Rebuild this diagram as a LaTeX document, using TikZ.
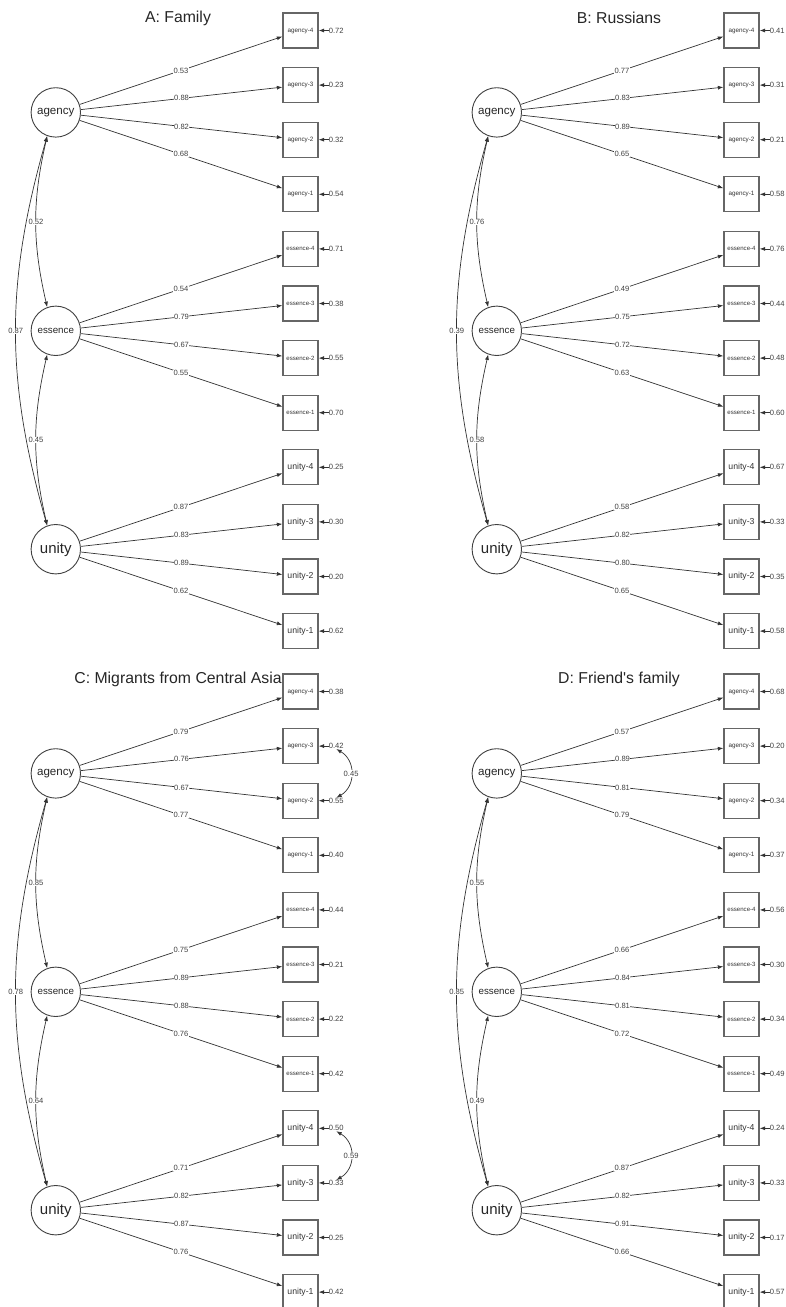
\documentclass[tikz,border=0pt]{standalone}
\usepackage{fontspec}
\setmainfont{Liberation Sans}
\usetikzlibrary{arrows.meta}

\newcommand\agencyfont{\fontsize{6.3}{7}\selectfont}
\newcommand\essencefont{\fontsize{6.1}{7}\selectfont}
\newcommand\unityfont{\fontsize{8.7}{10}\selectfont}

\tikzset{
    latent/.style={circle, draw=black!75, line width=0.9pt, minimum size=49.4pt, inner sep=0pt, text=black!85},
    indicator/.style={rectangle, draw=black!60, line width=1.3pt, minimum size=35pt, inner sep=0pt, text=black!80},
    loading/.style={fill=white, inner sep=0.4pt, font=\fontsize{7.6}{8}\selectfont, text=black!75},
    resid/.style={anchor=west, inner sep=0pt, font=\fontsize{7.6}{8}\selectfont, text=black!75},
    onehead/.style={-{Latex[length=5.5pt,width=4pt]}, draw=black!80, line width=0.7pt},
    twohead/.style={{Latex[length=5.5pt,width=4pt]}-{Latex[length=5.5pt,width=4pt]}, draw=black!80, line width=0.7pt},
    paneltitle/.style={font=\fontsize{15.8}{18}\selectfont, text=black!85}
}

\begin{document}
\begin{tikzpicture}[x=1pt,y=1pt]
        \useasboundingbox (0,0) rectangle (786,-1307);

        % Panel A
        \begin{scope}[shift={(0,0)}]
        \node[paneltitle] (A-title) at (178,-18) {A: Family};
        % Factors
        \node[latent, font=\fontsize{11.6}{13}\selectfont] (A-agency) at (55.8,-112.4) {agency};
        \node[latent, font=\fontsize{9.75}{11}\selectfont] (A-essence) at (55.8,-330.8) {essence};
        \node[latent, font=\fontsize{15}{17}\selectfont] (A-unity) at (55.8,-549.2) {unity};
        % Items, loadings and residuals
        \foreach \f/\i/\ld/\rs [count=\k from 0] in {agency/4/0.53/0.72, agency/3/0.88/0.23, agency/2/0.82/0.32, agency/1/0.68/0.54,
                essence/4/0.54/0.71, essence/3/0.79/0.38, essence/2/0.67/0.55, essence/1/0.55/0.70,
                unity/4/0.87/0.25, unity/3/0.83/0.30, unity/2/0.89/0.20, unity/1/0.62/0.62}
        {
            \node[indicator, font=\csname\f font\endcsname] (A-\f-\i) at (300.5,{-30.5-54.6*\k}) {\f-\i};
            \draw[onehead] (A-\f) -- node[loading] {\ld} (A-\f-\i);
            \node[resid] (A-r-\f-\i) at ([xshift=10pt]A-\f-\i.east) {\rs};
            \draw[onehead] (A-r-\f-\i) -- (A-\f-\i);
        }
        % Factor covariances
        \draw[twohead] (A-agency.250) to[bend right=13] node[loading] {0.52} (A-essence.110);
        \draw[twohead] (A-agency.250) to[bend right=16] node[loading] {0.87} (A-unity.110);
        \draw[twohead] (A-essence.250) to[bend right=13] node[loading] {0.45} (A-unity.110);
        \end{scope}

        % Panel B
        \begin{scope}[shift={(441,0)}]
        \node[paneltitle] (B-title) at (178,-18) {B: Russians};
        % Factors
        \node[latent, font=\fontsize{11.6}{13}\selectfont] (B-agency) at (55.8,-112.4) {agency};
        \node[latent, font=\fontsize{9.75}{11}\selectfont] (B-essence) at (55.8,-330.8) {essence};
        \node[latent, font=\fontsize{15}{17}\selectfont] (B-unity) at (55.8,-549.2) {unity};
        % Items, loadings and residuals
        \foreach \f/\i/\ld/\rs [count=\k from 0] in {agency/4/0.77/0.41, agency/3/0.83/0.31, agency/2/0.89/0.21, agency/1/0.65/0.58,
                essence/4/0.49/0.76, essence/3/0.75/0.44, essence/2/0.72/0.48, essence/1/0.63/0.60,
                unity/4/0.58/0.67, unity/3/0.82/0.33, unity/2/0.80/0.35, unity/1/0.65/0.58}
        {
            \node[indicator, font=\csname\f font\endcsname] (B-\f-\i) at (300.5,{-30.5-54.6*\k}) {\f-\i};
            \draw[onehead] (B-\f) -- node[loading] {\ld} (B-\f-\i);
            \node[resid] (B-r-\f-\i) at ([xshift=10pt]B-\f-\i.east) {\rs};
            \draw[onehead] (B-r-\f-\i) -- (B-\f-\i);
        }
        % Factor covariances
        \draw[twohead] (B-agency.250) to[bend right=13] node[loading] {0.76} (B-essence.110);
        \draw[twohead] (B-agency.250) to[bend right=16] node[loading] {0.39} (B-unity.110);
        \draw[twohead] (B-essence.250) to[bend right=13] node[loading] {0.58} (B-unity.110);
        \end{scope}

        % Panel C
        \begin{scope}[shift={(0,-661)}]
        \node[paneltitle] (C-title) at (178,-18) {C: Migrants from Central Asia};
        % Factors
        \node[latent, font=\fontsize{11.6}{13}\selectfont] (C-agency) at (55.8,-112.4) {agency};
        \node[latent, font=\fontsize{9.75}{11}\selectfont] (C-essence) at (55.8,-330.8) {essence};
        \node[latent, font=\fontsize{15}{17}\selectfont] (C-unity) at (55.8,-549.2) {unity};
        % Items, loadings and residuals
        \foreach \f/\i/\ld/\rs [count=\k from 0] in {agency/4/0.79/0.38, agency/3/0.76/0.42, agency/2/0.67/0.55, agency/1/0.77/0.40,
                essence/4/0.75/0.44, essence/3/0.89/0.21, essence/2/0.88/0.22, essence/1/0.76/0.42,
                unity/4/0.71/0.50, unity/3/0.82/0.33, unity/2/0.87/0.25, unity/1/0.76/0.42}
        {
            \node[indicator, font=\csname\f font\endcsname] (C-\f-\i) at (300.5,{-30.5-54.6*\k}) {\f-\i};
            \draw[onehead] (C-\f) -- node[loading] {\ld} (C-\f-\i);
            \node[resid] (C-r-\f-\i) at ([xshift=10pt]C-\f-\i.east) {\rs};
            \draw[onehead] (C-r-\f-\i) -- (C-\f-\i);
        }
        % Factor covariances
        \draw[twohead] (C-agency.250) to[bend right=13] node[loading] {0.85} (C-essence.110);
        \draw[twohead] (C-agency.250) to[bend right=16] node[loading] {0.78} (C-unity.110);
        \draw[twohead] (C-essence.250) to[bend right=13] node[loading] {0.64} (C-unity.110);
        % Residual covariances
        \draw[twohead] (C-r-agency-3.south) to[out=-30, in=30, looseness=1.2] node[loading] {0.45} (C-r-agency-2.north);
        \draw[twohead] (C-r-unity-4.south) to[out=-30, in=30, looseness=1.2] node[loading] {0.59} (C-r-unity-3.north);
        \end{scope}

        % Panel D
        \begin{scope}[shift={(441,-661)}]
        \node[paneltitle] (D-title) at (178,-18) {D: Friend\textquotesingle s family};
        % Factors
        \node[latent, font=\fontsize{11.6}{13}\selectfont] (D-agency) at (55.8,-112.4) {agency};
        \node[latent, font=\fontsize{9.75}{11}\selectfont] (D-essence) at (55.8,-330.8) {essence};
        \node[latent, font=\fontsize{15}{17}\selectfont] (D-unity) at (55.8,-549.2) {unity};
        % Items, loadings and residuals
        \foreach \f/\i/\ld/\rs [count=\k from 0] in {agency/4/0.57/0.68, agency/3/0.89/0.20, agency/2/0.81/0.34, agency/1/0.79/0.37,
                essence/4/0.66/0.56, essence/3/0.84/0.30, essence/2/0.81/0.34, essence/1/0.72/0.49,
                unity/4/0.87/0.24, unity/3/0.82/0.33, unity/2/0.91/0.17, unity/1/0.66/0.57}
        {
            \node[indicator, font=\csname\f font\endcsname] (D-\f-\i) at (300.5,{-30.5-54.6*\k}) {\f-\i};
            \draw[onehead] (D-\f) -- node[loading] {\ld} (D-\f-\i);
            \node[resid] (D-r-\f-\i) at ([xshift=10pt]D-\f-\i.east) {\rs};
            \draw[onehead] (D-r-\f-\i) -- (D-\f-\i);
        }
        % Factor covariances
        \draw[twohead] (D-agency.250) to[bend right=13] node[loading] {0.55} (D-essence.110);
        \draw[twohead] (D-agency.250) to[bend right=16] node[loading] {0.85} (D-unity.110);
        \draw[twohead] (D-essence.250) to[bend right=13] node[loading] {0.49} (D-unity.110);
        \end{scope}
\end{tikzpicture}
\end{document}
